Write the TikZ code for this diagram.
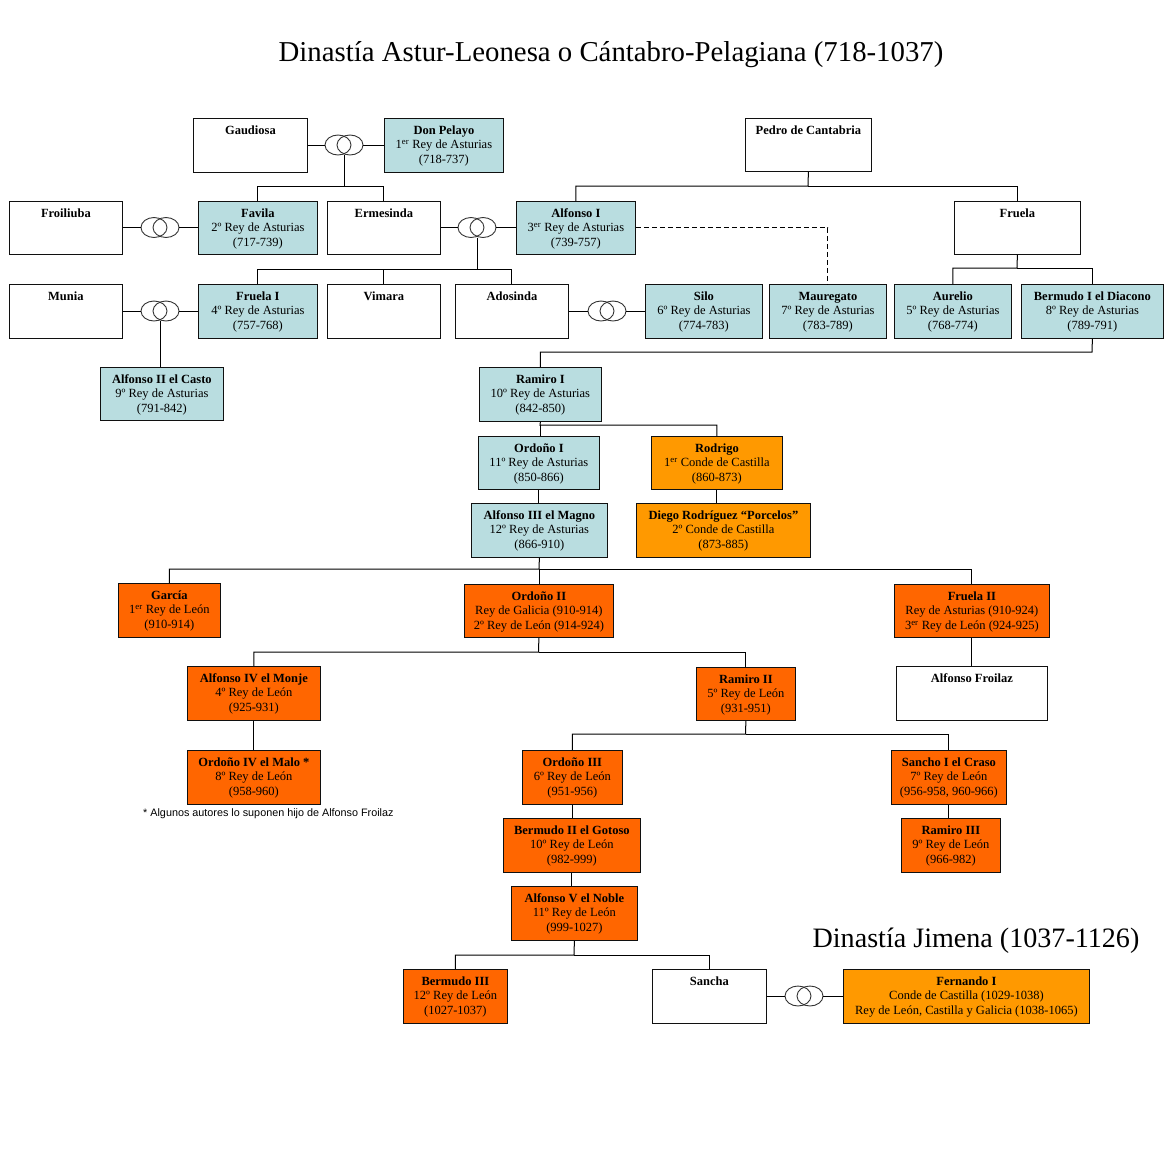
\documentclass[tikz,border=0pt]{standalone}
\usepackage{fontspec}
\setmainfont{Liberation Serif}
\newfontfamily\notefont{Liberation Sans}
\definecolor{kblue}{HTML}{B9DDE0}
\definecolor{corange}{HTML}{FF9900}
\definecolor{korange}{HTML}{FF6600}
\definecolor{edgecol}{HTML}{101010}
\newcommand\famnode[7]{%
  \node[#2, anchor=north west, inner sep=0pt] (#1) at (#3,#4)
   {\parbox[c][\dimexpr #6pt-#4pt\relax][t]{\dimexpr #5pt-#3pt\relax}{\centering\fontsize{12.5}{14.5}\selectfont\rule{0pt}{16pt}#7\par}};}
\newcommand\ringpair[2]{%
  \node[ringnode] (#1) at (#2) {};
  \draw[ringline] ([xshift=-6pt]#1.center) ellipse [x radius=13pt, y radius=10pt];
  \draw[ringline] ([xshift=6pt]#1.center) ellipse [x radius=13pt, y radius=10pt];}
\begin{document}
\begin{tikzpicture}[x=1pt, y=-1pt,
  famframe/.style={draw=edgecol, line width=0.8pt},
  whitebox/.style={famframe, fill=white},
  bluebox/.style={famframe, fill=kblue},
  lorbox/.style={famframe, fill=corange},
  dorbox/.style={famframe, fill=korange},
  ringnode/.style={minimum width=38pt, minimum height=20pt, inner sep=0pt},
  ringline/.style={draw=black!80, line width=0.9pt},
  link/.style={draw=black, line width=1pt},
  dashlink/.style={link, dash pattern=on 5pt off 3pt}]
\useasboundingbox[fill=white] (0,0) rectangle (1168,1168);

% titles
\node[font=\fontsize{28.8}{32}\selectfont] (title) at (611,55) {Dinastía Astur-Leonesa o Cántabro-Pelagiana (718-1037)};
\node[font=\fontsize{28.1}{32}\selectfont] (title2) at (976,941) {Dinastía Jimena (1037-1126)};
\node[font=\notefont\fontsize{10.8}{12}\selectfont, anchor=west, inner sep=0pt] (note) at (143,814) {* Algunos autores lo suponen hijo de Alfonso Froilaz};

% row 1
\famnode{gaud}{whitebox}{193}{118}{307}{172}{\textbf{Gaudiosa}}
\famnode{pelayo}{bluebox}{384}{118}{503}{172}{\textbf{Don Pelayo}\\1\textsuperscript{er} Rey de Asturias\\(718-737)}
\famnode{pedro}{whitebox}{745}{118}{871}{171}{\textbf{Pedro de Cantabria}}
% row 2
\famnode{froil}{whitebox}{9}{201}{122}{254}{\textbf{Froiliuba}}
\famnode{favila}{bluebox}{198}{201}{317}{254}{\textbf{Favila}\\2º Rey de Asturias\\(717-739)}
\famnode{ermes}{whitebox}{327}{201}{440}{254}{\textbf{Ermesinda}}
\famnode{alf1}{bluebox}{516}{201}{635}{254}{\textbf{Alfonso I}\\3\textsuperscript{er} Rey de Asturias\\(739-757)}
\famnode{fruela}{whitebox}{954}{201}{1080}{254}{\textbf{Fruela}}
% row 3
\famnode{munia}{whitebox}{9}{284}{122}{338}{\textbf{Munia}}
\famnode{fruela1}{bluebox}{198}{284}{317}{338}{\textbf{Fruela I}\\4º Rey de Asturias\\(757-768)}
\famnode{vimara}{whitebox}{327}{284}{440}{338}{\textbf{Vimara}}
\famnode{adosinda}{whitebox}{455}{284}{568}{338}{\textbf{Adosinda}}
\famnode{silo}{bluebox}{645}{284}{762}{338}{\textbf{Silo}\\6º Rey de Asturias\\(774-783)}
\famnode{maureg}{bluebox}{769}{284}{886}{338}{\textbf{Mauregato}\\7º Rey de Asturias\\(783-789)}
\famnode{aurelio}{bluebox}{894}{284}{1011}{338}{\textbf{Aurelio}\\5º Rey de Asturias\\(768-774)}
\famnode{bermudo1}{bluebox}{1021}{284}{1163}{338}{\textbf{Bermudo I el Diacono}\\8º Rey de Asturias\\(789-791)}
% row 4
\famnode{alf2}{bluebox}{100}{367}{223}{420}{\textbf{Alfonso II el Casto}\\9º Rey de Asturias\\(791-842)}
\famnode{ramiro1}{bluebox}{479}{367}{601}{421}{\textbf{Ramiro I}\\10º Rey de Asturias\\(842-850)}
\famnode{ordono1}{bluebox}{478}{436}{599}{489}{\textbf{Ordoño I}\\11º Rey de Asturias\\(850-866)}
\famnode{rodrigo}{lorbox}{651}{436}{782}{489}{\textbf{Rodrigo}\\1\textsuperscript{er} Conde de Castilla\\(860-873)}
\famnode{alf3}{bluebox}{471}{503}{607}{557}{\textbf{Alfonso III el Magno}\\12º Rey de Asturias\\(866-910)}
\famnode{diego}{lorbox}{636}{503}{810}{557}{\textbf{Diego Rodríguez “Porcelos”}\\2º Conde de Castilla\\(873-885)}
% León
\famnode{garcia}{dorbox}{118}{583}{220}{637}{\textbf{García}\\1\textsuperscript{er} Rey de León\\(910-914)}
\famnode{ordono2}{dorbox}{464}{584}{613}{637}{\textbf{Ordoño II}\\Rey de Galicia (910-914)\\2º Rey de León (914-924)}
\famnode{fruela2}{dorbox}{894}{584}{1049}{637}{\textbf{Fruela II}\\Rey de Asturias (910-924)\\3\textsuperscript{er} Rey de León (924-925)}
\famnode{alf4}{dorbox}{187}{666}{320}{720}{\textbf{Alfonso IV el Monje}\\4º Rey de León\\(925-931)}
\famnode{ramiro2}{dorbox}{696}{667}{795}{720}{\textbf{Ramiro II}\\5º Rey de León\\(931-951)}
\famnode{froilaz}{whitebox}{896}{666}{1047}{720}{\textbf{Alfonso Froilaz}}
\famnode{ordono4}{dorbox}{187}{750}{320}{804}{\textbf{Ordoño IV el Malo *}\\8º Rey de León\\(958-960)}
\famnode{ordono3}{dorbox}{522}{750}{622}{804}{\textbf{Ordoño III}\\6º Rey de León\\(951-956)}
\famnode{sancho}{dorbox}{891}{750}{1006}{804}{\textbf{Sancho I el Craso}\\7º Rey de León\\(956-958, 960-966)}
\famnode{bermudo2}{dorbox}{503}{818}{640}{872}{\textbf{Bermudo II el Gotoso}\\10º Rey de León\\(982-999)}
\famnode{ramiro3}{dorbox}{901}{818}{1000}{872}{\textbf{Ramiro III}\\9º Rey de León\\(966-982)}
\famnode{alf5}{dorbox}{511}{886}{637}{940}{\textbf{Alfonso V el Noble}\\11º Rey de León\\(999-1027)}
\famnode{bermudo3}{dorbox}{403}{969}{507}{1023}{\textbf{Bermudo III}\\12º Rey de León\\(1027-1037)}
\famnode{sancha}{whitebox}{652}{969}{766}{1023}{\textbf{Sancha}}
\famnode{fernando}{lorbox}{843}{969}{1089}{1023}{\textbf{Fernando I}\\Conde de Castilla (1029-1038)\\Rey de León, Castilla y Galicia (1038-1065)}

% marriage rings
\ringpair{r1}{344,145}
\ringpair{r2}{160,227.5}
\ringpair{r3}{477,227.5}
\ringpair{r4}{160,311}
\ringpair{r5}{607,311}
\ringpair{r6}{804,996}
\draw[link] (gaud.east |- r1) -- (r1.west);
\draw[link] (r1.east) -- (pelayo.west |- r1);
\draw[link] (froil.east |- r2) -- (r2.west);
\draw[link] (r2.east) -- (favila.west |- r2);
\draw[link] (ermes.east |- r3) -- (r3.west);
\draw[link] (r3.east) -- (alf1.west |- r3);
\draw[link] (munia.east |- r4) -- (r4.west);
\draw[link] (r4.east) -- (fruela1.west |- r4);
\draw[link] (adosinda.east |- r5) -- (r5.west);
\draw[link] (r5.east) -- (silo.west |- r5);
\draw[link] (sancha.east |- r6) -- (r6.west);
\draw[link] (r6.east) -- (fernando.west |- r6);

% descent
\coordinate (b1) at (344,186);
\draw[link] (r1.south) -- (b1) -| (favila.north);
\draw[link] (b1) -| (ermes.north);
\coordinate (b2) at (808,186);
\draw[link] (pedro.south) -- (b2) -| (alf1.north);
\draw[link] (b2) -| (fruela.north);
\coordinate (b3) at (477,269);
\draw[link] (r3.south) -- (b3) -| (fruela1.north);
\draw[link] (b3) -| (adosinda.north);
\draw[link] (vimara.north |- b3) -- (vimara.north);
\draw[dashlink] (alf1.east) -| (maureg.north);
\coordinate (b4) at (1017,268);
\draw[link] (fruela.south) -- (b4) -| (aurelio.north);
\draw[link] (b4) -| (bermudo1.north);
\draw[link] (r4.south) -- (r4.south |- alf2.north);
\coordinate (b5) at (1092,352);
\draw[link] (bermudo1.south) -- (b5) -| (ramiro1.north);
\coordinate (b6) at (540,425);
\draw[link] (ramiro1.south) -- (b6) -| (rodrigo.north);
\draw[link] (b6) -- (b6 |- ordono1.north);
\draw[link] (ordono1.south) -- (ordono1.south |- alf3.north);
\draw[link] (rodrigo.south) -- (rodrigo.south |- diego.north);
\coordinate (b7) at (539,569);
\draw[link] (alf3.south) -- (b7) -| (garcia.north);
\draw[link] (b7) -| (fruela2.north);
\draw[link] (b7) -- (b7 |- ordono2.north);
\coordinate (b8) at (538.5,652);
\draw[link] (ordono2.south) -- (b8) -| (alf4.north);
\draw[link] (b8) -| (ramiro2.north);
\draw[link] (fruela2.south) -- (fruela2.south |- froilaz.north);
\draw[link] (alf4.south) -- (ordono4.north);
\coordinate (b9) at (745.5,734);
\draw[link] (ramiro2.south) -- (b9) -| (ordono3.north);
\draw[link] (b9) -| (sancho.north);
\draw[link] (ordono3.south) -- (ordono3.south |- bermudo2.north);
\draw[link] (bermudo2.south) -- (bermudo2.south |- alf5.north);
\draw[link] (sancho.south) -- (sancho.south |- ramiro3.north);
\coordinate (b10) at (574,955);
\draw[link] (alf5.south) -- (b10) -| (bermudo3.north);
\draw[link] (b10) -| (sancha.north);
\end{tikzpicture}
\end{document}
